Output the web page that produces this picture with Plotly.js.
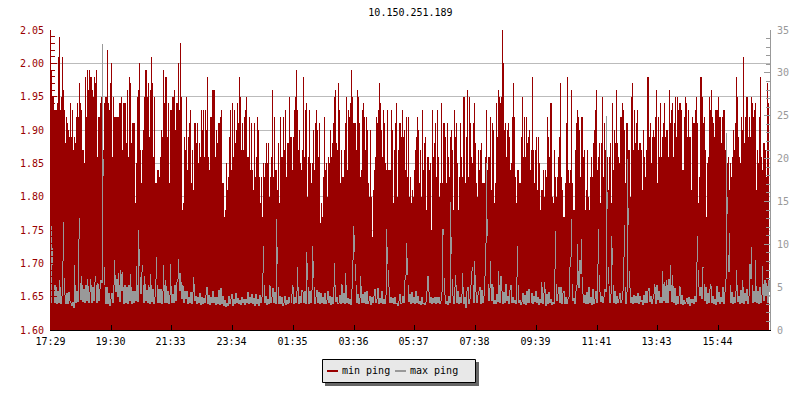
<!DOCTYPE html>
<html><head><meta charset="utf-8">
<script src="https://cdn.plot.ly/plotly-3.0.1.min.js"></script>
<style>html,body{margin:0;padding:0;background:#fff}#c{width:800px;height:400px}.scatterlayer path{shape-rendering:crispEdges}</style>
</head><body><div id="c"></div>
<script>
// min ping, ms x 100, one value per column
const minPingA=[199,199,195,195,193,193,193,194,201,204,193,195,201,196,193,188,192,191,190,189,194,189,193,187,189,188,192,194,192,197,194,193,187,187,185,198,192,199,196,199,198,198,196,195,198,197,199,186,192,192,194,195,187,187,194,195,195,202,194,193,197,200,186,195,192,192,192,192,192,194,194,195,187,194,194,194,188,196,186,198,197,188,191,191,191,179,185,195,196,200,187,182,187,190,195,199,199,195,197,189,196,201,197,186,195,182,182,184,184,183,186,190,189,199,194,198,198,189,194,182,193,193,195,195,196,190,194,194,200,193,203,195,178,179,189,187,195,184,189,191,193,182,187,181,191,191,188,191,185,188,186,193,190,193,186,193,190,198,186,184,192,192,196,196,196,186,190,188,191,191,192,193,182,182,177,178,185,181,183,189,193,184,194,186,193,188,190,194,191,198,195,187,191,187,192,193,195,186,186,192,184,191,184,181,191,183,186,192,190,183,179,183,177,185,183,185,188,185,188,180,183,186,196,183,192,184,184,181,188,179,192,186,186,192,187,193,183,188,188,195];
const minPingB=[189,189,184,189,193,195,199,193,187,190,185,184,187,198,186,193,194,180,186,193,185,182,185,190,184,191,193,190,186,191,176,179,177,183,192,184,185,180,186,185,190,186,188,191,195,196,188,187,197,193,182,187,183,183,187,191,195,184,193,192,194,199,195,191,191,191,187,196,195,191,183,184,193,194,192,187,192,190,182,180,190,180,174,181,184,186,192,191,193,197,194,190,186,193,191,185,184,193,184,184,184,193,190,179,187,191,194,180,187,191,191,189,193,189,190,184,192,183,192,180,183,179,181,180,184,187,189,192,190,182,187,180,193,184,188,189,178,186,186,184,185,175,193,186,188,191,183,193,186,180,182,194,182,191,191,189,182,191,186,183,189,190,187,178,193,189,191,185,178,183,191,186,183,195,195,182,189,196,183,195,191,186,185,191,194,188,182,180,187,184,187,188,182,182,182,186,193,184,186,186,192,181,191,190,179,182,194,189,196,195,194,195,205,200,190,191,186,190,191,189,184,185,192,197,192,183,179,184,184,182,182,189,195,186,192,186,192,188,189,190];
const minPingC=[184,187,198,187,182,187,189,181,189,185,178,181,181,184,180,184,183,192,189,186,194,194,180,179,187,183,180,183,186,189,197,183,181,177,177,182,191,198,184,182,184,196,182,178,178,187,191,193,192,190,183,192,192,186,187,178,181,187,180,178,183,186,183,188,190,193,196,184,186,188,179,188,195,183,191,187,181,186,181,186,188,179,194,184,190,188,196,188,186,185,192,192,194,193,190,182,191,191,187,187,180,195,197,187,193,188,191,193,187,188,188,187,181,190,186,183,187,198,198,189,191,185,189,190,189,192,196,182,192,186,194,186,189,191,194,189,190,190,186,196,191,193,194,186,191,195,189,195,193,194,194,193,184,184,192,195,194,189,193,189,189,181,192,191,191,193,195,191,179,183,198,198,195,191,192,187,177,185,186,195,193,196,192,191,189,193,193,193,195,192,192,188,192,193,193,187,183,185,186,181,185,183,186,190,187,191,198,195,189,186,185,192,190,201,188,192,195,195,189,192,189,195,194,192,193,194,181,187,185,192,198,186,184,188,188,187,183,197,194];
// max ping, ms, one value per column
const maxPingA=[3.0,12.1,7.6,7.6,3.2,5.2,3.0,4.6,3.1,5.8,3.0,4.0,8.0,12.6,4.1,3.0,4.3,3.0,4.4,3.4,3.1,2.8,3.3,2.6,7.6,3.2,4.6,3.3,10.6,13.1,3.5,6.3,3.3,4.8,3.2,5.3,3.4,6.0,3.1,4.4,5.9,3.2,5.0,3.4,5.6,6.3,3.2,5.5,3.4,4.8,5.8,5.5,33.4,18,5.3,3.0,5.0,3.0,4.3,2.8,3.6,4.3,3.2,5.2,8.2,4.4,6.0,3.9,6.6,3.3,7.0,4.5,6.8,3.0,5.2,3.2,5.0,3.0,5.3,3.4,6.5,3.0,4.5,3.2,4.6,3.4,7.5,3.3,11.7,7.5,4.2,6.8,7.6,3.2,6.3,3.4,4.7,3.1,5.2,3.0,6.5,3.3,4.8,3.0,3.8,6.0,8.5,3.2,4.8,3.2,4.8,3.0,4.5,7.6,3.2,5.8,3.1,4.5,3.0,4.1,7.7,3.1,4.2,3.1,5.3,3.4,5.6,6.0,8.3,4.6,6.6,3.6,5.3,3.1,4.5,3.6,4.6,3.0,3.9,3.1,4.4,3.0,4.4,6.2,3.4,4.0,3.0,3.8,3.1,4.3,2.9,3.8,3.0,3.7,3.1,4.1,5.0,3.0,4.1,2.9,3.9,3.2,4.6,3.2,3.9,2.9,3.9,3.0,4.7,2.9,4.9,3.0,4.0,2.8,3.5,2.7,3.2,2.8,4.0,3.0,3.6,4.2,2.8,3.6,3.0,4.3,3.2,3.7,3.0,3.5,2.9,3.9,3.1,3.6,2.9,3.6,3.1,4.4,3.0,3.9,3.1,4.2,3.0,3.7,2.8,4.2,3.0,3.6,2.8,4.1,3.1,3.8,6.6,9.8,3.2,4.0,2.9,3.6,3.0,5.3,3.1,3.8,4.9,3.2,4.4,3.0,12.9,7.7,3.0,4.0,3.0,3.8,2.8,3.2,4.0,2.9,3.5,3.0,3.8,3.2];
const maxPingB=[3.2,4.2,5.2,3.0,3.8,3.2,4.6,7.3,3.0,4.0,3.1,4.7,4.4,3.2,4.6,3.0,9.1,5.8,3.0,4.5,3.1,4.7,9.8,6.1,3.0,3.8,4.7,3.2,4.4,3.0,4.3,3.2,3.9,3.0,4.3,3.0,3.5,4.6,3.1,4.0,2.9,3.9,3.0,5.0,7.8,3.3,3.9,3.0,3.1,4.1,3.0,5.4,3.2,4.3,3.0,6.7,3.2,3.7,3.0,3.6,2.9,4.8,8.2,12.1,9.1,5.7,3.2,4.2,3.0,3.7,6.3,3.1,4.2,3.2,4.4,3.0,4.5,3.0,3.4,4.0,2.9,3.9,3.1,4.0,4.8,3.2,3.6,4.9,3.0,3.7,3.2,4.6,3.0,3.6,3.0,4.1,11.8,7.7,5.0,3.2,3.9,3.1,3.7,3.0,3.8,3.0,3.1,2.8,3.4,4.2,3.0,3.2,4.0,3.2,5.8,6.4,10.1,6.4,3.3,4.2,3.0,4.4,3.1,3.9,3.0,4.6,3.2,4.0,3.0,3.4,2.9,3.9,3.0,3.2,2.9,3.3,4.5,6.3,4.4,3.2,3.8,3.0,3.7,3.2,3.9,3.0,3.8,3.1,3.9,3.0,3.4,4.4,11.8,11.1,4.1,3.0,3.4,2.9,4.0,3.2,14.9,8.9,4.0,3.0,5.0,6.4,3.2,4.6,3.0,3.9,3.1,4.2,6.6,3.0,3.9,2.6,4.5,5.0,3.0,3.6,5.2,6.9,7.4,3.2,8.0,4.4,3.1,4.1,4.6,5.0,3.0,4.7,3.2,4.0,6.3,10.1,19.5,11.0,3.4,4.9,8.0,3.4,5.4,3.0,3.5,3.0,4.2,3.3,6.9,3.2,6.3,4.6,3.0,4.4,3.1,5.4,3.4,4.0,3.0,4.7,5.2,3.2,3.8,3.1,3.5,3.0,6.2,9.8,3.2,3.5,2.9,3.3,4.3,3.0,4.1,2.9,4.6,3.1,4.8,3.2];
const maxPingC=[3.2,4.3,3.0,4.0,3.3,4.6,3.1,3.8,2.9,3.6,3.2,5.6,3.0,4.3,5.6,2.8,4.2,3.0,4.4,3.2,3.6,2.9,3.3,3.0,7.1,11.5,3.4,4.2,5.0,3.2,5.0,3.0,4.3,4.6,3.0,3.9,3.0,3.6,3.8,7.4,8.5,12.9,3.4,3.7,3.0,4.6,5.2,10,4.9,8.2,6.5,10.6,4.2,3.2,4.1,3.0,4.4,3.0,5.0,3.2,3.9,2.9,4.8,3.0,3.6,4.5,3.2,7.7,11.8,4.4,3.3,4.0,3.2,3.8,4.8,4.4,25,14.1,5.4,3.1,4.2,11,7.6,3.2,4.6,3.0,4.0,3.2,3.6,4.3,3.1,3.5,4.5,8.5,12.2,3.0,4.4,20,12.2,4.9,3.1,3.9,3.0,4.1,3.1,4.0,3.2,4.3,3.0,4.0,3.3,3.5,2.9,4.1,3.1,4.5,3.2,4.5,4.9,3.3,4.0,3.0,3.6,4.2,5.4,3.0,5.3,3.5,4.6,3.2,3.8,3.1,6.9,3.4,5.6,3.1,5.8,3.2,6.0,4.5,7.6,3.3,6.4,3.1,4.9,2.9,4.0,3.0,4.0,5.1,3.0,4.1,2.9,3.5,3.0,3.3,3.7,3.0,3.8,2.8,3.6,3.1,3.6,3.0,4.0,3.3,7.9,11,5.0,4.0,5.0,3.6,7.3,7.2,3.4,5.0,3.0,4.3,3.2,4.8,5.4,3.1,4.0,3.0,3.6,2.9,5.1,3.3,4.4,3.0,3.9,3.3,5.0,3.0,4.4,6.0,23,13.5,6.8,11.3,3.2,4.4,3.0,3.8,3.2,4.5,7.0,3.3,4.0,3.0,4.7,3.2,5.8,3.0,4.3,3.4,4.8,3.0,4.0,7.7,5.9,9.7,3.2,4.5,3.3,8.2,3.1,4.6,3.0,5.0,3.2,4.1,7.5,3.4,5.8,4.0,5.5,3.1,5.8,4.4];
const timeLabels=['17:29','19:30','21:33','23:34','01:35','03:36','05:37','07:38','09:39','11:41','13:43','15:44'];
const timeColumns=[1,61,121,182,243,304,364,425,486,547,607,668];
const seriesNames=['min ping','max ping'];

const minPing=minPingA.concat(minPingB,minPingC).map(v=>v/100);
const maxPing=maxPingA.concat(maxPingB,maxPingC);
const xMin=minPing.map((_,i)=>i);
// each column of the max series is a vertical run: a rise is drawn whole,
// the fall after a spike is kept short so spikes stay one column wide
const xMax=[], yMax=[];
maxPing.forEach((v,i)=>{
  const prev=i>0?maxPing[i-1]:v;
  const top=prev>v?Math.min(prev,v+2):v;
  const low=prev<v?prev:v;
  xMax.push(i,i,null); yMax.push(low,top,null);
});
const mono='"DejaVu Sans Mono", monospace';
const RED='#990000', GREY='#999999';

// page pixels -> paper fractions, for the hand-built legend box
const px=x=>(x-51)/719, py=y=>(330-y)/300;
function rect(x0,y0,x1,y1,fill,line){return {type:'rect',xref:'paper',yref:'paper',x0:px(x0),x1:px(x1),y0:py(y0),y1:py(y1),fillcolor:fill,line:line?{color:line,width:1}:{width:0}};}
function seg(x0,x1,y,c){return {type:'line',xref:'paper',yref:'paper',x0:px(x0),x1:px(x1),y0:py(y),y1:py(y),line:{color:c,width:2}};}
function lab(x,t){return {xref:'paper',yref:'paper',x:px(x),y:py(370.5),text:t,showarrow:false,xanchor:'left',yanchor:'middle',font:{family:mono,size:10,color:'#000'},borderpad:0};}

Plotly.newPlot('c',[
 {type:'bar',name:seriesNames[0],x:xMin,y:minPing,width:1,marker:{color:RED,line:{width:0}},yaxis:'y',showlegend:false,hoverinfo:'skip'},
 {type:'scatter',mode:'lines',name:seriesNames[1],x:xMax,y:yMax,yaxis:'y2',connectgaps:false,line:{color:GREY,width:1,simplify:false},showlegend:false,hoverinfo:'skip'}
],{
 width:800,height:400,autosize:false,
 margin:{l:51,r:30,t:30,b:70,pad:0},
 paper_bgcolor:'#fff',plot_bgcolor:'#fff',
 bargap:0,showlegend:false,
 title:{text:'10.150.251.189',font:{family:mono,size:10,color:'#000'},x:0.5,xref:'paper',xanchor:'center',y:0.97,yanchor:'middle',automargin:false},
 xaxis:{range:[0.5,719.5],tickmode:'array',tickvals:timeColumns,ticktext:timeLabels,ticks:'inside',ticklen:5,tickcolor:'#000',showgrid:false,zeroline:false,showline:true,linecolor:'#000',linewidth:1,tickfont:{family:mono,size:10,color:'#000'},ticklabelstandoff:2,ticklabelshift:-1,fixedrange:true},
 yaxis:{range:[1.6,2.05],tickmode:'linear',tick0:1.6,dtick:0.05,tickformat:'.2f',ticks:'inside',ticklen:6,tickcolor:RED,showgrid:true,gridcolor:'#bbbbbb',gridwidth:1,zeroline:false,showline:true,linecolor:RED,linewidth:1,tickfont:{family:mono,size:10,color:RED},ticklabelstandoff:4,minor:{dtick:0.01,tick0:1.6,ticks:'inside',ticklen:4,tickcolor:RED,showgrid:false},fixedrange:true},
 yaxis2:{range:[0,35],overlaying:'y',side:'right',tickmode:'linear',tick0:0,dtick:5,ticks:'inside',ticklen:6,tickcolor:GREY,showgrid:false,zeroline:false,showline:true,linecolor:GREY,linewidth:1,tickfont:{family:mono,size:10,color:GREY},ticklabelstandoff:4,minor:{dtick:1,tick0:0,ticks:'inside',ticklen:4,tickcolor:GREY,showgrid:false},fixedrange:true},
 shapes:[
  rect(325,362,479,386,'#666666'),
  rect(322.5,359.5,475.5,382.5,'#e8e8e8','#000000'),
  seg(327,338,371,RED),
  seg(395,406,371,GREY)
 ],
 annotations:[lab(341,seriesNames[0]),lab(409,seriesNames[1])]
},{displayModeBar:false,staticPlot:true});
</script></body></html>
